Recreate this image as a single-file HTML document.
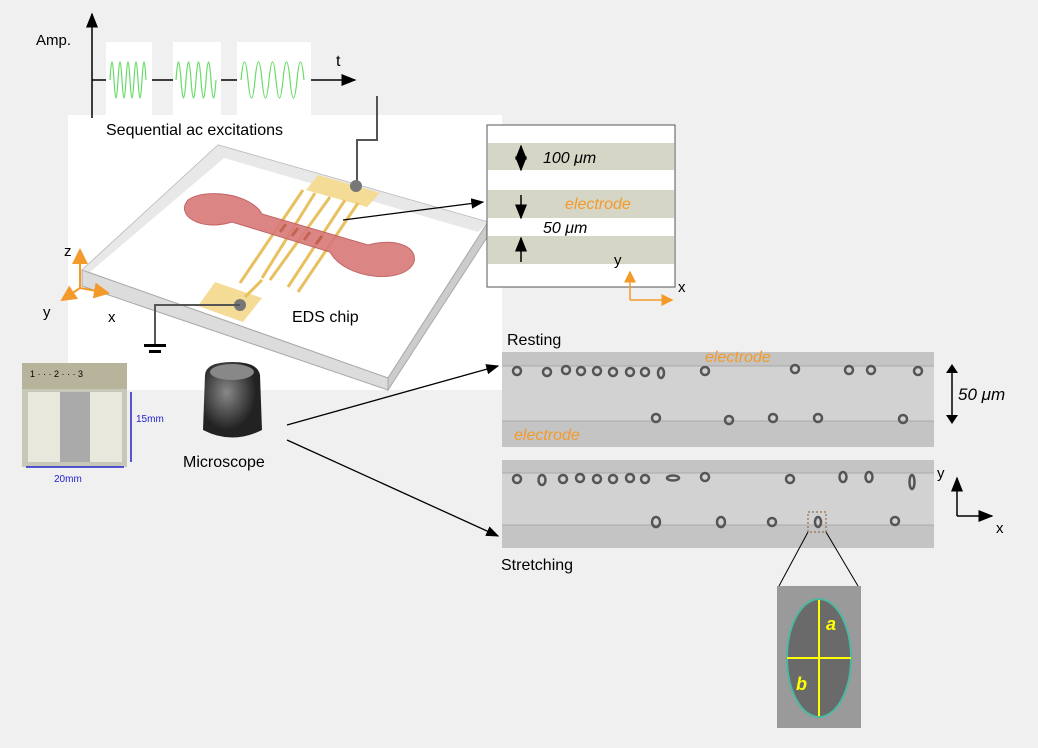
<!DOCTYPE html>
<html><head><meta charset="utf-8"><style>
body{margin:0;background:#f0f0f0;}
svg{display:block;font-family:"Liberation Sans",sans-serif;}
</style></head><body>
<svg width="1038" height="748" viewBox="0 0 1038 748" xmlns="http://www.w3.org/2000/svg">
<defs>
<marker id="ah" markerWidth="10" markerHeight="8" refX="9" refY="4" orient="auto"><path d="M0,0L10,4L0,8z" fill="#000"/></marker>
<marker id="ao" markerWidth="8" markerHeight="8" refX="7" refY="4" orient="auto"><path d="M0,0L8,4L0,8z" fill="#f39a2a"/></marker>
<radialGradient id="mic" cx="0.4" cy="0.4"><stop offset="0" stop-color="#888"/><stop offset="1" stop-color="#222"/></radialGradient>
</defs>
<rect width="1038" height="748" fill="#f0f0f0"/>
<rect x="68" y="115" width="434" height="275" fill="#fff"/>
<line x1="92" y1="80" x2="92" y2="14" stroke="#000" stroke-width="1.5" marker-end="url(#ah)"/>
<line x1="92" y1="80" x2="355" y2="80" stroke="#000" stroke-width="1.5" marker-end="url(#ah)"/>
<line x1="92" y1="80" x2="92" y2="118" stroke="#000" stroke-width="1.5"/>
<text x="36" y="45" font-size="15">Amp.</text>
<text x="336" y="66" font-size="16">t</text>
<rect x="106" y="42" width="46" height="75" fill="#fff"/>
<rect x="173" y="42" width="48" height="75" fill="#fff"/>
<rect x="237" y="42" width="74" height="75" fill="#fff"/>
<path d="M110,80 q2,-36 4,0 t4,0 t4,0 t4,0 t4,0 t4,0 t4,0 t4,0 t4,0" fill="none" stroke="#6d6" stroke-width="1.2"/>
<path d="M176,80 q2.5,-36 5,0 t5,0 t5,0 t5,0 t5,0 t5,0 t5,0 t5,0" fill="none" stroke="#6d6" stroke-width="1.2"/>
<path d="M241,80 q3.5,-36 7,0 t7,0 t7,0 t7,0 t7,0 t7,0 t7,0 t7,0 t7,0" fill="none" stroke="#6d6" stroke-width="1.2"/>
<text x="106" y="135" font-size="16">Sequential ac excitations</text>
<polyline points="377,96 377,140 357,140 357,185" fill="none" stroke="#555" stroke-width="2"/>
<!-- chip -->
<polygon points="218,145 488,222 388,378 82,270" fill="#fff" stroke="#aaa"/>
<polygon points="82,270 388,378 388,390 82,286" fill="#dcdcdc" stroke="#aaa"/>
<polygon points="388,378 488,222 488,236 388,390" fill="#ccc" stroke="#aaa"/>
<polygon points="218,145 488,222 478,232 224,158 90,272 82,270" fill="#e2e2e2" opacity="0.8"/>
<polygon points="318,175 380,193 367,207 306,190" fill="#f5dc96"/>
<polygon points="215,282 262,298 243,322 198,306" fill="#f5dc96"/>
<g stroke="#e8c060" stroke-width="3"><line x1="303" y1="190" x2="240" y2="283"/><line x1="315" y1="193" x2="262" y2="278"/><line x1="330" y1="197" x2="270" y2="280"/><line x1="345" y1="200" x2="288" y2="287"/><line x1="358" y1="203" x2="298" y2="292"/><line x1="262" y1="280" x2="245" y2="297"/></g>
<path d="M188,200 C175,215 200,232 232,222 L330,252 C345,280 405,285 414,262 C418,245 392,238 368,245 L262,214 C250,193 205,188 188,200z" fill="#d97878" stroke="#b55" opacity="0.9"/>
<g stroke="#b05030" stroke-width="3" opacity="0.6"><line x1="280" y1="232" x2="286" y2="224"/><line x1="292" y1="236" x2="298" y2="228"/><line x1="304" y1="240" x2="310" y2="232"/><line x1="316" y1="244" x2="322" y2="236"/></g>
<circle cx="356" cy="186" r="6" fill="#777"/>
<circle cx="240" cy="305" r="6" fill="#777"/>
<polyline points="240,305 155,305 155,345" fill="none" stroke="#555" stroke-width="2"/>
<rect x="144" y="344" width="22" height="3" fill="#000"/><rect x="149" y="350" width="12" height="3" fill="#000"/>
<text x="292" y="322" font-size="16">EDS chip</text>
<line x1="343" y1="220" x2="483" y2="202" stroke="#000" stroke-width="1.3" marker-end="url(#ah)"/>
<g stroke="#f39a2a" stroke-width="2"><line x1="80" y1="288" x2="80" y2="250" marker-end="url(#ao)"/><line x1="80" y1="288" x2="108" y2="293" marker-end="url(#ao)"/><line x1="80" y1="288" x2="62" y2="300" marker-end="url(#ao)"/></g>
<text x="64" y="256" font-size="15">z</text><text x="43" y="317" font-size="15">y</text><text x="108" y="322" font-size="15">x</text>
<!-- electrode inset -->
<rect x="487" y="125" width="188" height="162" fill="#fff" stroke="#555"/>
<rect x="488" y="143" width="186" height="27" fill="#d6d6c6"/>
<rect x="488" y="190" width="186" height="28" fill="#d6d6c6"/>
<rect x="488" y="236" width="186" height="28" fill="#d6d6c6"/>
<g stroke="#000" stroke-width="1.5"><line x1="521" y1="157" x2="521" y2="146" marker-end="url(#ah)"/><line x1="521" y1="157" x2="521" y2="170" marker-end="url(#ah)"/><line x1="521" y1="195" x2="521" y2="218" marker-end="url(#ah)"/><line x1="521" y1="262" x2="521" y2="238" marker-end="url(#ah)"/></g>
<text x="543" y="163" font-size="16" font-style="italic">100 μm</text>
<text x="565" y="209" font-size="16" font-style="italic" fill="#f39a2a">electrode</text>
<text x="543" y="233" font-size="16" font-style="italic">50 μm</text>
<g stroke="#f39a2a" stroke-width="1.5"><line x1="630" y1="300" x2="630" y2="272" marker-end="url(#ao)"/><line x1="630" y1="300" x2="672" y2="300" marker-end="url(#ao)"/></g>
<text x="614" y="265" font-size="15">y</text><text x="678" y="292" font-size="15">x</text>
<!-- photo -->
<rect x="22" y="363" width="105" height="104" fill="#c8c8b8"/>
<rect x="22" y="363" width="105" height="26" fill="#b8b49c"/>
<text x="30" y="377" font-size="9">1 · · · 2 · · · 3</text>
<rect x="28" y="392" width="32" height="70" fill="#e8e8dc"/><rect x="90" y="392" width="32" height="70" fill="#e8e8dc"/>
<rect x="60" y="392" width="30" height="70" fill="#aaa"/>
<line x1="26" y1="467" x2="124" y2="467" stroke="#22c" stroke-width="1.5"/>
<line x1="131" y1="392" x2="131" y2="462" stroke="#22c" stroke-width="1.5"/>
<text x="136" y="422" font-size="10" fill="#22c">15mm</text>
<text x="54" y="482" font-size="10" fill="#22c">20mm</text>
<!-- microscope -->
<path d="M205,375 Q206,362 232,362 Q258,362 260,375 L262,430 Q232,445 203,430z" fill="url(#mic)"/>
<ellipse cx="232" cy="372" rx="22" ry="8" fill="#888"/>
<text x="183" y="467" font-size="16">Microscope</text>
<line x1="287" y1="425" x2="498" y2="366" stroke="#000" stroke-width="1.3" marker-end="url(#ah)"/>
<line x1="287" y1="440" x2="498" y2="536" stroke="#000" stroke-width="1.3" marker-end="url(#ah)"/>
<!-- Resting -->
<text x="507" y="345" font-size="16">Resting</text>
<rect x="502" y="352" width="432" height="95" fill="#c4c4c4"/>
<rect x="502" y="366" width="432" height="55" fill="#d2d2d2"/>
<line x1="502" y1="366" x2="934" y2="366" stroke="#aaa"/><line x1="502" y1="421" x2="934" y2="421" stroke="#aaa"/>
<text x="705" y="362" font-size="16" font-style="italic" fill="#f39a2a">electrode</text>
<text x="514" y="440" font-size="16" font-style="italic" fill="#f39a2a">electrode</text>
<g fill="none" stroke="#555" stroke-width="2.5">
<circle cx="517" cy="371" r="4"/><circle cx="547" cy="372" r="4"/><circle cx="566" cy="370" r="4"/><circle cx="581" cy="371" r="4"/><circle cx="597" cy="371" r="4"/><circle cx="613" cy="372" r="4"/><circle cx="630" cy="372" r="4"/><circle cx="645" cy="372" r="4"/><ellipse cx="661" cy="373" rx="3" ry="5"/><circle cx="705" cy="371" r="4"/><circle cx="795" cy="369" r="4"/><circle cx="849" cy="370" r="4"/><circle cx="871" cy="370" r="4"/><circle cx="918" cy="371" r="4"/>
<circle cx="656" cy="418" r="4"/><circle cx="729" cy="420" r="4"/><circle cx="773" cy="418" r="4"/><circle cx="818" cy="418" r="4"/><circle cx="903" cy="419" r="4"/>
</g>
<line x1="952" y1="373" x2="952" y2="415" stroke="#000" stroke-width="1.5"/>
<path d="M946,373L952,364L958,373z M946,415L952,424L958,415z"/>
<text x="958" y="400" font-size="17" font-style="italic">50 μm</text>
<!-- Stretching -->
<rect x="502" y="460" width="432" height="88" fill="#c4c4c4"/>
<rect x="502" y="473" width="432" height="52" fill="#d2d2d2"/>
<line x1="502" y1="473" x2="934" y2="473" stroke="#aaa"/><line x1="502" y1="525" x2="934" y2="525" stroke="#aaa"/>
<g fill="none" stroke="#555" stroke-width="2.5">
<circle cx="517" cy="479" r="4"/><ellipse cx="542" cy="480" rx="3.5" ry="5"/><circle cx="563" cy="479" r="4"/><circle cx="580" cy="478" r="4"/><circle cx="597" cy="479" r="4"/><circle cx="613" cy="479" r="4"/><circle cx="630" cy="478" r="4"/><circle cx="645" cy="479" r="4"/><ellipse cx="673" cy="478" rx="6" ry="2.5"/><circle cx="705" cy="477" r="4"/><circle cx="790" cy="479" r="4"/><ellipse cx="843" cy="477" rx="3.5" ry="5"/><ellipse cx="869" cy="477" rx="3.5" ry="5"/><ellipse cx="912" cy="482" rx="2.5" ry="7"/>
<ellipse cx="656" cy="522" rx="4" ry="5"/><ellipse cx="721" cy="522" rx="4" ry="5"/><circle cx="772" cy="522" r="4"/><ellipse cx="818" cy="522" rx="3" ry="5"/><circle cx="895" cy="521" r="4"/>
</g>
<rect x="808" y="512" width="18" height="20" fill="none" stroke="#8a5a2a" stroke-dasharray="2,2"/>
<text x="501" y="570" font-size="16">Stretching</text>
<line x1="957" y1="516" x2="957" y2="478" stroke="#000" stroke-width="1.5" marker-end="url(#ah)"/>
<line x1="957" y1="516" x2="992" y2="516" stroke="#000" stroke-width="1.5" marker-end="url(#ah)"/>
<text x="937" y="478" font-size="15">y</text><text x="996" y="533" font-size="15">x</text>
<line x1="808" y1="532" x2="779" y2="586" stroke="#000"/><line x1="826" y1="532" x2="858" y2="586" stroke="#000"/>
<rect x="777" y="586" width="84" height="142" fill="#9a9a9a"/>
<ellipse cx="819" cy="658" rx="32" ry="59" fill="#6a6a6a" stroke="#4cb8a0" stroke-width="2"/>
<line x1="819" y1="600" x2="819" y2="716" stroke="#ff0" stroke-width="2"/>
<line x1="787" y1="658" x2="851" y2="658" stroke="#ff0" stroke-width="2"/>
<text x="826" y="630" font-size="18" font-style="italic" font-weight="bold" fill="#ff0">a</text>
<text x="796" y="690" font-size="18" font-style="italic" font-weight="bold" fill="#ff0">b</text>
</svg>
</body></html>
